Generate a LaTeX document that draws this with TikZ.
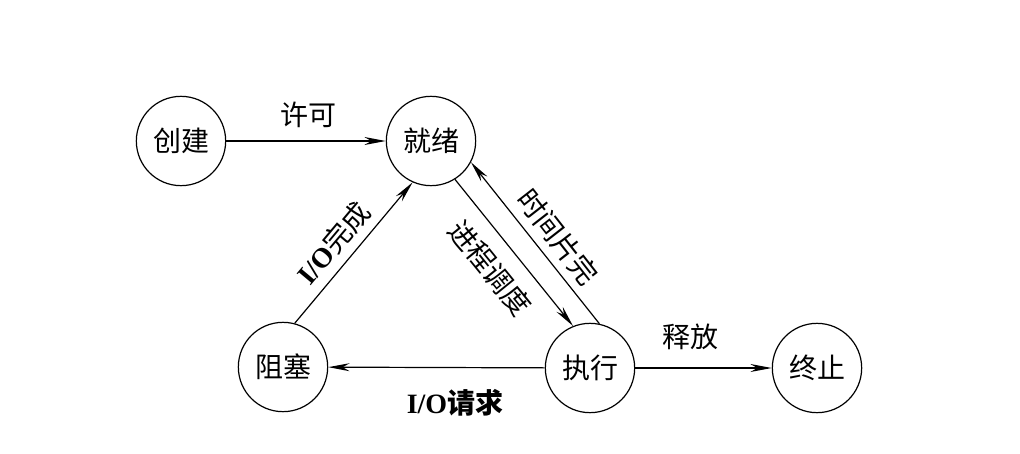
\documentclass[tikz,border=0pt]{standalone}
\usepackage{fontspec}
\setmainfont{Liberation Serif}
\newfontfamily\cjk{Noto Sans CJK SC}
\newcommand{\iotext}{{\rmfamily\bfseries I/O}}
\usetikzlibrary{arrows.meta}

\begin{document}
\begin{tikzpicture}[
  x=0.75pt,
  y=-0.75pt,
  state/.style={circle,draw,line width=0.9pt,minimum size=67pt,inner sep=0pt,font=\cjk\fontsize{21}{24}\selectfont},
  trans/.style={-{Stealth[length=16pt,width=6pt]},line width=0.9pt},
  lbl/.style={font=\cjk\fontsize{21}{24}\selectfont}
]
\useasboundingbox (0,0) rectangle (1020,453);

% states
\node[state] (create) at (181,141) {创建};
\node[state] (ready) at (431,141) {就绪};
\node[state] (block) at (283,367) {阻塞};
\node[state] (run) at (590,368) {执行};
\node[state] (exit) at (817,368) {终止};

% transitions
\draw[trans] (create) -- (ready);
\draw[trans] (ready.-58) -- (run.112);
\draw[trans] (run.78) -- (ready.-28);
\draw[trans] (block.75) -- (ready.246);
\draw[trans] (run) -- (block);
\draw[trans] (run) -- (exit);

% labels
\node[lbl] (allow) at (308,115) {许可};
\node[lbl,rotate=50] (iodone) at (333,243) {\iotext 完成};
\node[lbl,rotate=-51] (sched) at (490,268) {进程调度};
\node[lbl,rotate=-52] (slice) at (558,237) {时间片完};
\node[lbl] (release) at (690,337) {释放};
\node[lbl] (ioreq) at (455,403) {\iotext\bfseries 请求};
\end{tikzpicture}
\end{document}
